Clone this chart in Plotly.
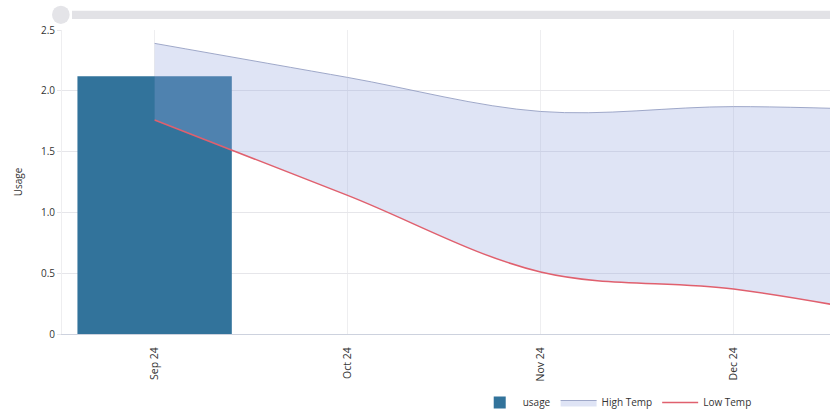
import plotly.graph_objects as go

# Monthly categories shown on the x axis
months = ["Sep 24", "Oct 24", "Nov 24", "Dec 24", "Jan 25"]

# Usage bars (only September has a reading)
usage_months = ["Sep 24"]
usage = [2.12]

# Temperature band (scaled to the usage axis)
high_temp = [2.39, 2.11, 1.83, 1.87, 1.83]
low_temp = [1.76, 1.14, 0.51, 0.37, 0.10]

y_ticks = [0, 0.5, 1.0, 1.5, 2.0, 2.5]
y_tick_text = ["0", "0.5", "1.0", "1.5", "2.0", "2.5"]

bar_color = "#32739b"
band_fill = "rgba(150,165,222,0.30)"
band_line = "rgba(150,160,195,0.9)"
low_color = "#e0606e"

fig = go.Figure()

fig.add_trace(go.Bar(
    x=usage_months, y=usage, name="usage",
    marker=dict(color=bar_color, line=dict(width=0)),
    width=0.8, legendrank=1,
))

# lower edge of the band (no legend entry)
fig.add_trace(go.Scatter(
    x=months, y=low_temp, mode="lines", line=dict(width=0, shape="spline"),
    showlegend=False, hoverinfo="skip",
))

fig.add_trace(go.Scatter(
    x=months, y=high_temp, name="High Temp", mode="lines",
    line=dict(color=band_line, width=1, shape="spline"),
    fill="tonexty", fillcolor=band_fill, legendrank=2,
))

fig.add_trace(go.Scatter(
    x=months, y=low_temp, name="Low Temp", mode="lines",
    line=dict(color=low_color, width=1.5, shape="spline"),
    legendrank=3,
))

# decorative header strip above the plot
fig.add_shape(type="rect", xref="paper", yref="paper",
              x0=0.013, x1=1.0, y0=1.036, y1=1.063,
              fillcolor="rgb(226,226,230)", line=dict(width=0), layer="below")
fig.add_shape(type="circle", xref="paper", yref="paper",
              x0=-0.013, x1=0.01, y0=1.02, y1=1.08,
              fillcolor="rgb(228,228,232)", line=dict(width=0), layer="below")

fig.update_layout(
    width=830, height=417,
    margin=dict(l=62, r=0, t=30, b=83),
    paper_bgcolor="white", plot_bgcolor="white",
    font=dict(family="Open Sans", size=10, color="#333"),
    showlegend=True,
    legend=dict(orientation="h", xref="paper", x=0.54, xanchor="left",
                yref="container", y=-0.015, yanchor="bottom",
                font=dict(size=10, color="#333"), itemwidth=36,
                traceorder="normal"),
)

fig.update_xaxes(
    type="category", categoryorder="array", categoryarray=months,
    range=[-0.48, 3.5], tickangle=-90,
    showgrid=True, gridcolor="rgb(238,238,240)", gridwidth=1,
    showline=True, linecolor="rgb(205,210,222)", linewidth=1,
    ticks="", ticklabelstandoff=8, tickfont=dict(size=10.5, color="#333"),
    zeroline=False, automargin=False,
)

fig.update_yaxes(
    range=[0, 2.5], tickvals=y_ticks, ticktext=y_tick_text,
    showgrid=True, gridcolor="rgb(230,230,234)", gridwidth=1,
    showline=True, linecolor="rgb(238,238,240)", linewidth=1,
    ticks="outside", ticklen=4, tickcolor="rgb(230,230,234)",
    zeroline=False, automargin=False,
    title=dict(text="Usage", font=dict(size=10, color="#333"), standoff=16),
    tickfont=dict(size=10, color="#333"),
)

fig.write_html("out.html")
